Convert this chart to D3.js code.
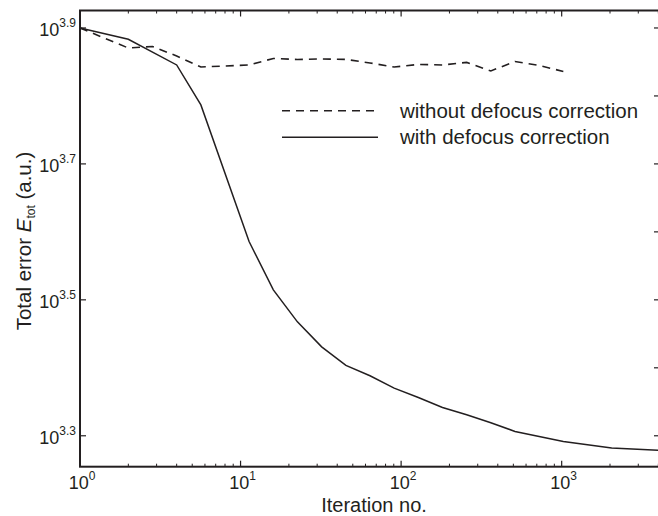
<!DOCTYPE html>
<html>
<head>
<meta charset="utf-8">
<script src="https://d3js.org/d3.v7.min.js"></script>
<style>
  body { margin: 0; background: #fff; }
  text { font-family: "Liberation Sans", Arial, Helvetica, sans-serif; fill: #231f20; }
</style>
</head>
<body>
<script>
// iterations (sqrt(2) spaced) and total error values
var iterWith = [1, 2, 4, 5.66, 11.3, 16, 22.6, 32, 45.3, 64, 90.5, 128, 181, 256, 362, 512, 1024, 2048, 4096];
var errWith = [7943, 7644, 7008, 6121, 3853, 3271, 2935, 2697, 2532, 2445, 2345, 2272, 2196, 2142, 2085, 2025, 1957, 1914, 1899];

var iterWithout = [1, 2, 2.83, 4, 5.66, 8, 11.3, 16, 22.6, 32, 45.3, 64, 90.5, 128, 181, 256, 362, 512, 724, 1024];
var errWithout = [7943, 7422, 7460, 7224, 6960, 6984, 7008, 7163, 7140, 7151, 7140, 7055, 6960, 7020, 7008, 7068, 6868, 7091, 6997, 6855];

var xTickExp = [0, 1, 2, 3];
var yLabelExp = [3.3, 3.5, 3.7, 3.9];
var yRightExp = [3.3, 3.4, 3.5, 3.6, 3.7, 3.8, 3.9];

var legendLabels = ["without defocus correction", "with defocus correction"];

var width = 658, height = 516;
var ink = "#231f20";

var svg = d3.select("body").append("svg")
    .attr("width", width)
    .attr("height", height);

var mLeft = 80, mRight = 660, mTop = 10.5, mBottom = 466.7;

var x = d3.scaleLog().domain([1, 4096]).range([mLeft, mRight]);
var y = d3.scaleLog().domain([Math.pow(10, 3.2545), Math.pow(10, 3.9257)]).range([mBottom, mTop]);

// minor ticks for the log x axis
var minor = [];
for (var d = 0; d <= 3; d++) {
  for (var m = 2; m <= 9; m++) {
    var v = m * Math.pow(10, d);
    if (v <= 4096) minor.push(v);
  }
}

var g = svg.append("g");

// bottom ticks (pointing up) and top ticks (pointing down)
g.selectAll(".minorB").data(minor).enter().append("line")
  .attr("x1", d => x(d)).attr("x2", d => x(d))
  .attr("y1", mBottom).attr("y2", mBottom - 3)
  .attr("stroke", ink).attr("stroke-width", 1);
g.selectAll(".minorT").data(minor).enter().append("line")
  .attr("x1", d => x(d)).attr("x2", d => x(d))
  .attr("y1", mTop).attr("y2", mTop + 3)
  .attr("stroke", ink).attr("stroke-width", 1);
g.selectAll(".majorB").data(xTickExp).enter().append("line")
  .attr("x1", d => x(Math.pow(10, d))).attr("x2", d => x(Math.pow(10, d)))
  .attr("y1", mBottom).attr("y2", mBottom - 6)
  .attr("stroke", ink).attr("stroke-width", 1.2);
g.selectAll(".majorT").data(xTickExp).enter().append("line")
  .attr("x1", d => x(Math.pow(10, d))).attr("x2", d => x(Math.pow(10, d)))
  .attr("y1", mTop).attr("y2", mTop + 6)
  .attr("stroke", ink).attr("stroke-width", 1.2);

// left ticks (inward) and right ticks
g.selectAll(".yl").data(yLabelExp).enter().append("line")
  .attr("x1", mLeft).attr("x2", mLeft + 6)
  .attr("y1", d => y(Math.pow(10, d))).attr("y2", d => y(Math.pow(10, d)))
  .attr("stroke", ink).attr("stroke-width", 1.2);
g.selectAll(".yr").data(yRightExp).enter().append("line")
  .attr("x1", mRight).attr("x2", mRight - 6)
  .attr("y1", d => y(Math.pow(10, d))).attr("y2", d => y(Math.pow(10, d)))
  .attr("stroke", ink).attr("stroke-width", 1.2);

// frame
svg.append("rect")
  .attr("x", mLeft).attr("y", mTop)
  .attr("width", mRight - mLeft).attr("height", mBottom - mTop)
  .attr("fill", "none").attr("stroke", ink).attr("stroke-width", 2);

// x tick labels
var xl = svg.selectAll(".xlab").data(xTickExp).enter().append("text")
  .attr("x", d => x(Math.pow(10, d)) + 2)
  .attr("y", 489)
  .attr("text-anchor", "middle")
  .style("font-size", "18px");
xl.append("tspan").text("10");
xl.append("tspan").attr("dy", -9).style("font-size", "12px").text(d => d);

// y tick labels
var yl = svg.selectAll(".ylab").data(yLabelExp).enter().append("text")
  .attr("x", 76)
  .attr("y", d => y(Math.pow(10, d)) + 8)
  .attr("text-anchor", "end")
  .style("font-size", "18px");
yl.append("tspan").text("10");
yl.append("tspan").attr("dy", -9).style("font-size", "12px").text(d => d.toFixed(1));

// lines
var line = d3.line().x(d => x(d[0])).y(d => y(d[1]));

svg.append("path")
  .datum(d3.zip(iterWithout, errWithout))
  .attr("d", line)
  .attr("fill", "none").attr("stroke", ink).attr("stroke-width", 1.6)
  .attr("stroke-dasharray", "8,6");

svg.append("path")
  .datum(d3.zip(iterWith, errWith))
  .attr("d", line)
  .attr("fill", "none").attr("stroke", ink).attr("stroke-width", 1.5);

// legend
var legY = [110.7, 137.3];
var leg = svg.selectAll(".leg").data(legendLabels).enter().append("g")
  .attr("transform", (d, i) => "translate(0," + legY[i] + ")");
leg.append("line")
  .attr("x1", 282).attr("x2", 378).attr("y1", 0).attr("y2", 0)
  .attr("stroke", ink).attr("stroke-width", 1.5)
  .attr("stroke-dasharray", (d, i) => i === 0 ? "8,6" : null);
leg.append("text")
  .attr("x", 400).attr("y", 7)
  .style("font-size", "20.5px")
  .text(d => d);

// axis titles
svg.append("text")
  .attr("x", (mLeft + mRight) / 2 + 4)
  .attr("y", 512)
  .attr("text-anchor", "middle")
  .style("font-size", "20px")
  .text("Iteration no.");

var yt = svg.append("text")
  .attr("transform", "translate(31,241) rotate(-90)")
  .attr("text-anchor", "middle")
  .style("font-size", "20.5px");
yt.append("tspan").text("Total error ");
yt.append("tspan").style("font-style", "italic").text("E");
yt.append("tspan").attr("dy", 4).style("font-size", "12px").text("tot");
yt.append("tspan").attr("dy", -4).text(" (a.u.)");
</script>
</body>
</html>
